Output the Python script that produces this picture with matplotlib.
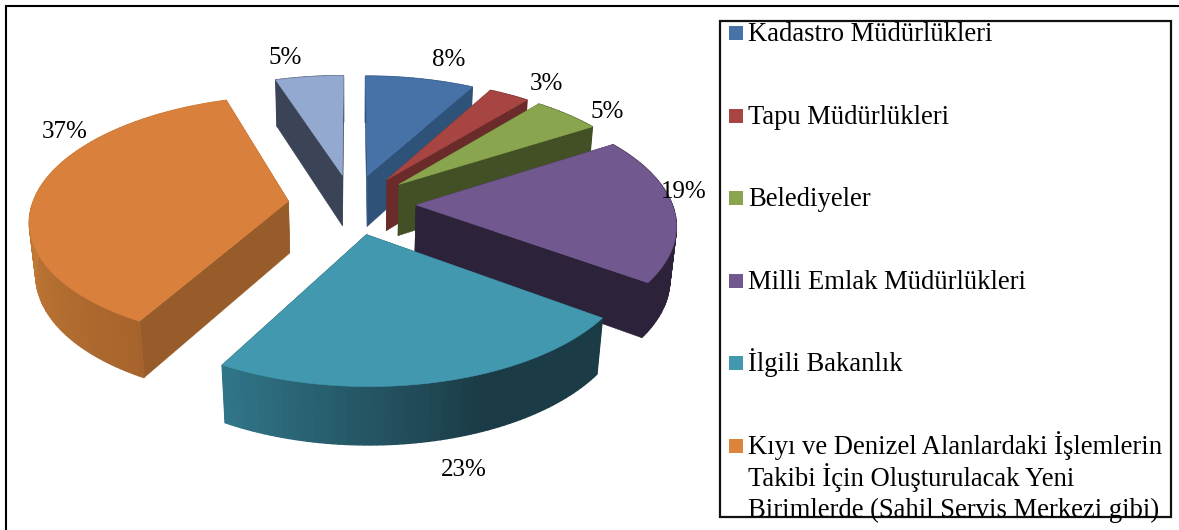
import numpy as np
import matplotlib
matplotlib.use("Agg")
import matplotlib.pyplot as plt
from matplotlib.patches import Rectangle

# data
categories = ["Kadastro Müdürlükleri", "Tapu Müdürlükleri", "Belediyeler",
              "Milli Emlak Müdürlükleri", "İlgili Bakanlık",
              "Kıyı ve Denizel Alanlardaki İşlemlerin\nTakibi İçin Oluşturulacak Yeni\nBirimlerde (Sahil Servis Merkezi gibi)"]
values = [8, 3, 5, 19, 23, 37, 5]

# colours : top, radial wall, arc wall (two ends of the gradient)
top_colors = ["#4672A8", "#A64542", "#89A54E", "#71588F", "#4198AF", "#D8803C", "#93A9CF"]
side_colors = ["#2F5279", "#6A2B2A", "#435026", "#2C2239", "#1B3C47", "#985C2A", "#3B4356"]
arc_from = ["#2F5279", "#6A2B2A", "#435026", "#2C2239", "#1B3C47", "#C67D38", "#3B4356"]
arc_to = ["#2F5279", "#6A2B2A", "#435026", "#2C2239", "#31778A", "#A6642C", "#3B4356"]
legend_colors = ["#4672A8", "#A64542", "#89A54E", "#71588F", "#4198AF", "#DB843D"]

# perspective settings, in pixels of the picture
cx, cy = 352, 204
fx, fy = 256, 121
k = 0.141
depth = 53
explode = 0.25


def project(u, v, down=0.0):
    w = 1 + k*v + 0.02*down
    return cx + fx*u/w, cy - fy*v/w + depth*down/w


counter = [2]
def zo():
    counter[0] += 0.001
    return counter[0]


def wall(a, b, color, lw=0.4):
    # a and b are (u, v) points of the top edge
    xa, ya = project(*a)
    xb, yb = project(*b)
    xc, yc = project(*b, down=1)
    xd, yd = project(*a, down=1)
    ax.fill([xa, xb, xc, xd], [ya, yb, yc, yd], facecolor=color, edgecolor=color,
            lw=lw, zorder=zo())


fig = plt.figure(figsize=(11.79, 5.30), dpi=100)
ax = fig.add_axes([0, 0, 1, 1])
ax.set_xlim(0, 1179)
ax.set_ylim(530, 0)
ax.axis("off")
plt.rcParams["font.family"] = ["Liberation Serif", "DejaVu Serif"]

#angles, clockwise from the top
edges = np.radians(np.concatenate([[0], np.cumsum(values)])*3.6)
order = [6, 0, 1, 2, 5, 3, 4]

for i in order:
    t0, t1 = edges[i], edges[i+1]
    mid = (t0 + t1)/2
    ox, oy = explode*np.sin(mid), explode*np.cos(mid)
    apex = (ox, oy)
    theta = np.linspace(t0, t1, max(8, int(values[i]*3)))
    pts = [(ox + np.sin(t), oy + np.cos(t)) for t in theta]

    # gradient along the arc wall
    c0 = np.array(matplotlib.colors.to_rgb(arc_from[i]))
    c1 = np.array(matplotlib.colors.to_rgb(arc_to[i]))
    if i == 4:
        grad = np.interp(np.degrees(theta), [158, 208.8], [0, 1])
    elif i == 5:
        grad = np.interp(np.degrees(theta), [208.8, 275], [1, 0])
    else:
        grad = np.zeros(len(theta))

    # walls turned away from the viewer first
    mids = (theta[:-1] + theta[1:])/2
    back_arc = [j for j in range(len(pts)-1) if np.cos(mids[j]) > 0]
    front_arc = [j for j in range(len(pts)-1) if np.cos(mids[j]) <= 0]
    for j in back_arc:
        wall(pts[j], pts[j+1], tuple(c0 + (c1-c0)*grad[j]), lw=1.0)
    radial = [(np.sin(t0), apex, pts[0]), (-np.sin(t1), apex, pts[-1])]
    radial.sort(key=lambda r: -r[0])
    for _, a, b in radial:
        wall(a, b, side_colors[i])
    for j in front_arc:
        wall(pts[j], pts[j+1], tuple(c0 + (c1-c0)*grad[j]), lw=1.0)

    # top of the slice
    outline = [apex] + pts
    xs, ys = zip(*[project(u, v) for u, v in outline])
    ax.fill(xs, ys, color=top_colors[i], lw=0.4, zorder=zo())

# percent labels
label_pos = [(432, 66), (530, 90), (590, 118), (661, 198), (441, 476), (42, 138), (269, 64)]
for v, (x, y) in zip(values, label_pos):
    ax.text(x, y, str(v) + "%", fontsize=18, va="baseline", ha="left", color="black", zorder=5)

# outer frame, only left and top show in the picture
ax.plot([6, 6, 1179], [530, 6, 6], color="black", lw=1.5, zorder=1, solid_joinstyle="miter")

# legend box
ax.add_patch(Rectangle((720, 21), 451, 496, facecolor="white", edgecolor="#111111", lw=1.6, zorder=4))
legend_y = [26, 109, 191, 274, 356, 439]
for name, color, y in zip(categories, legend_colors, legend_y):
    ax.add_patch(Rectangle((729, y), 14, 14, facecolor=color, edgecolor="none", zorder=5))
    for n, line in enumerate(name.split("\n")):
        ax.text(748, y + 15 + n*31.5, line, fontsize=19.2, va="baseline", ha="left", color="black", zorder=6)

plt.savefig("out.png", dpi=100)
